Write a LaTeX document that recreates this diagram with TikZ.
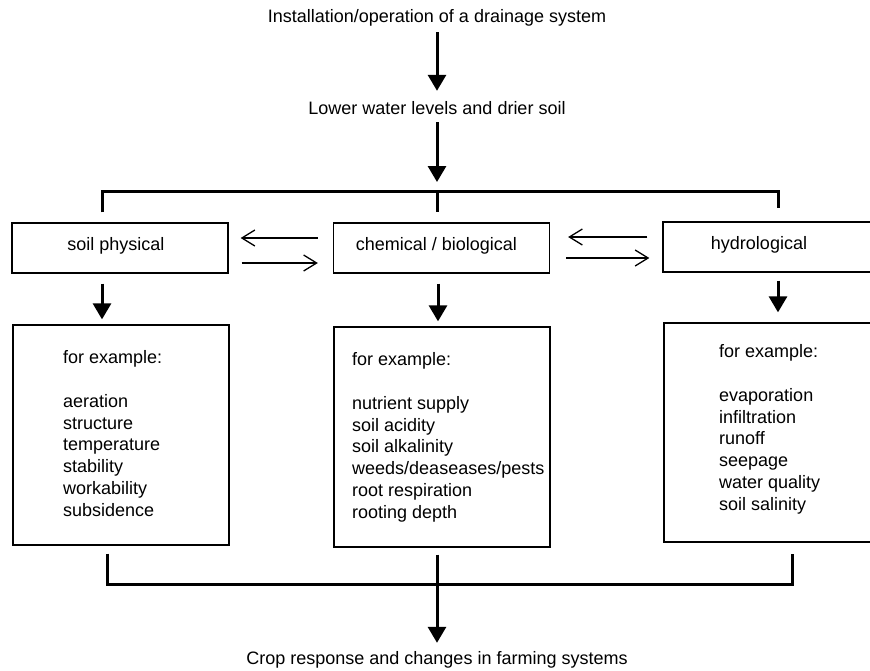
\documentclass[tikz,border=0pt]{standalone}
\usepackage{fontspec}
\setmainfont{Liberation Sans}
\usetikzlibrary{arrows.meta}
\tikzset{
  box/.style={draw, line width=1.3pt, inner sep=0pt, minimum width=216pt, minimum height=50pt},
  exbox/.style={draw, line width=1.3pt, inner sep=0pt, minimum width=216pt, minimum height=220pt},
  txt/.style={inner sep=0pt, text height=13pt, text depth=4pt},
  list/.style={inner sep=0pt, anchor=north west, align=left},
  down/.style={line width=3pt, -{Triangle[width=18pt,length=16pt]}},
  bar/.style={line width=3pt},
  swap/.style={line width=1.3pt, -{Straight Barb[length=13pt,width=16pt]}}
}
\begin{document}
\begin{tikzpicture}[x=1pt, y=-1pt, font=\fontsize{18}{21.8}\selectfont]
  \useasboundingbox (0,0) rectangle (870,670);
  \draw
    (437,18) node[txt] (install) {Installation/operation of a drainage system}
    (437,110) node[txt] (lower) {Lower water levels and drier soil}
    (437,660) node[txt] (crop) {Crop response and changes in farming systems};
  \draw
    (120,248) node[box] (phys) {}
    (441.5,248) node[box] (chem) {}
    (771,247) node[box] (hydro) {}
    (121,435) node[exbox] (physex) {}
    (442,437) node[exbox] (chemex) {}
    (772,432.5) node[exbox, minimum height=219pt] (hydroex) {};
  \draw
    (116,246) node[txt] (physlbl) {soil physical}
    (436.5,246) node[txt] (chemlbl) {chemical / biological}
    (759,245) node[txt] (hydrolbl) {hydrological};
  \draw
    (63,350.5) node[list] (physlist) {for example:\\[21.8pt]aeration\\structure\\temperature\\stability\\workability\\subsidence}
    (352,352.5) node[list] (chemlist) {for example:\\[21.8pt]nutrient supply\\soil acidity\\soil alkalinity\\weeds/deaseases/pests\\root respiration\\rooting depth}
    (719,344.5) node[list] (hydrolist) {for example:\\[21.8pt]evaporation\\infiltration\\runoff\\seepage\\water quality\\soil salinity};
  \coordinate (split) at (437,191);
  \coordinate (merge) at (437,584);
  \draw[down, shorten <=5.5pt, shorten >=10.5pt] (install) -- (lower);
  \draw[down, shorten <=3.5pt, shorten >=9pt] (lower) -- (split);
  \draw[bar] ([xshift=-18pt,yshift=10pt]phys.north) |- (split) -| ([xshift=7pt,yshift=13pt]hydro.north);
  \draw[bar] (split) -- ([yshift=10pt]split |- chem.north);
  \begin{scope}[down]
    \draw ([xshift=-18pt,yshift=-10pt]phys.south) -- ([xshift=-19pt,yshift=5pt]physex.north);
    \draw ([xshift=-3.5pt,yshift=-10pt]chem.south) -- ([xshift=-4pt,yshift=5pt]chemex.north);
    \draw ([xshift=7pt,yshift=-8pt]hydro.south) -- ([xshift=6pt,yshift=10pt]hydroex.north);
  \end{scope}
  \begin{scope}[swap]
    \draw ([xshift=-15pt,yshift=10pt]chem.west) -- ([xshift=12pt,yshift=10pt]phys.east);
    \draw ([xshift=13pt,yshift=-15pt]phys.east) -- ([xshift=-15pt,yshift=-15pt]chem.west);
    \draw ([xshift=-15pt,yshift=10pt]hydro.west) -- ([xshift=18pt,yshift=11pt]chem.east);
    \draw ([xshift=16pt,yshift=-10pt]chem.east) -- ([xshift=-13pt,yshift=-11pt]hydro.west);
  \end{scope}
  \draw[bar] ([xshift=-14pt,yshift=-8pt]physex.south) |- (merge) -| ([xshift=20pt,yshift=-11pt]hydroex.south);
  \draw[down, shorten >=8.5pt] ([yshift=-7pt]merge |- chemex.south) -- (crop);
\end{tikzpicture}
\end{document}
